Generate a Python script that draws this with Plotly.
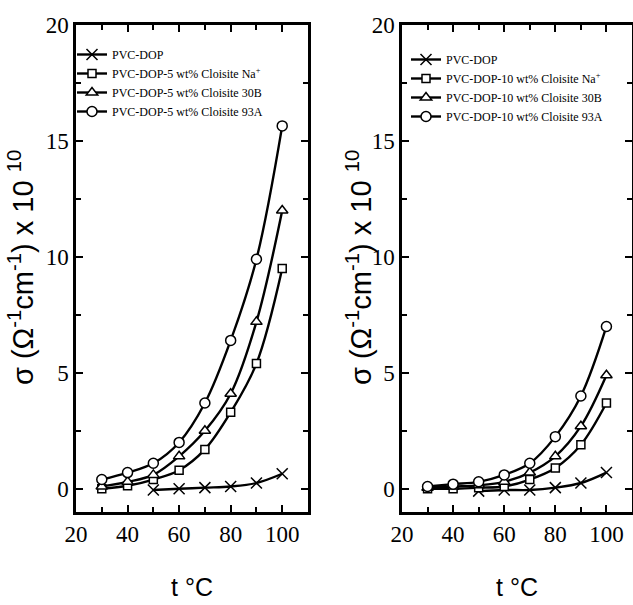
import plotly.graph_objects as go

# ---- data ----
temps = [30, 40, 50, 60, 70, 80, 90, 100]
temps_dop = [50, 60, 70, 80, 90, 100]

# left panel (5 wt%)
left_dop = [-0.05, 0.0, 0.05, 0.1, 0.25, 0.65]
left_na = [0.0, 0.13, 0.4, 0.8, 1.7, 3.3, 5.4, 9.5]
left_30b = [0.1, 0.3, 0.6, 1.4, 2.5, 4.1, 7.2, 12.0]
left_93a = [0.4, 0.7, 1.1, 2.0, 3.7, 6.4, 9.9, 15.65]

# right panel (10 wt%)
right_dop = [-0.1, -0.05, -0.05, 0.05, 0.25, 0.7]
right_na = [0.0, 0.0, 0.05, 0.1, 0.4, 0.9, 1.9, 3.7]
right_30b = [0.05, 0.1, 0.15, 0.3, 0.7, 1.4, 2.7, 4.9]
right_93a = [0.1, 0.2, 0.3, 0.6, 1.1, 2.25, 4.0, 7.0]

left_names = ["PVC-DOP",
              "PVC-DOP-5 wt% Cloisite Na<sup>+</sup>",
              "PVC-DOP-5 wt% Cloisite 30B",
              "PVC-DOP-5 wt% Cloisite 93A"]
right_names = ["PVC-DOP",
               "PVC-DOP-10 wt% Cloisite Na<sup>+</sup>",
               "PVC-DOP-10 wt% Cloisite 30B",
               "PVC-DOP-10 wt% Cloisite 93A"]

x_ticks = [20, 40, 60, 80, 100]
y_ticks = [0, 5, 10, 15, 20]
y_title = "σ (Ω<sup>-1</sup>cm<sup>-1</sup>) x 10 <sup>10</sup>"
x_title = "t °C"

symbols = ["x-thin", "square", "triangle-up", "circle"]
sizes = [11, 8, 10, 10]

fig = go.Figure()

def add_panel(xa, ya, legend, names, series):
    for i, (name, (xs, ys)) in enumerate(zip(names, series)):
        fig.add_trace(go.Scatter(
            x=xs, y=ys, name=name, mode="lines+markers",
            xaxis=xa, yaxis=ya, legend=legend,
            line=dict(color="black", width=2.4, shape="spline", smoothing=1.0),
            marker=dict(symbol=symbols[i], size=sizes[i], color="white",
                        line=dict(color="black", width=1.5)),
        ))

add_panel("x", "y", "legend", left_names,
          [(temps_dop, left_dop), (temps, left_na), (temps, left_30b), (temps, left_93a)])
add_panel("x2", "y2", "legend2", right_names,
          [(temps_dop, right_dop), (temps, right_na), (temps, right_30b), (temps, right_93a)])

tickfont = dict(family="Liberation Serif", size=23, color="black")
axis_common = dict(showgrid=False, zeroline=False, showline=True, linecolor="black",
                   linewidth=2.5, mirror="ticks", ticks="inside", ticklen=7,
                   tickwidth=2, tickcolor="black", tickfont=tickfont)

ydom = [1 - 512 / 605, 1 - 25 / 605]
xminor = dict(tickvals=[30, 50, 70, 90], ticks="inside", ticklen=5, tickwidth=2,
              tickcolor="black")
yminor = dict(tickvals=[2.5, 7.5, 12.5, 17.5], ticks="inside", ticklen=5,
              tickwidth=2, tickcolor="black")
legfont = dict(family="Liberation Serif", size=12, color="black")

fig.update_layout(
    width=633, height=605, margin=dict(l=0, r=0, t=0, b=0),
    paper_bgcolor="white", plot_bgcolor="white",
    xaxis=dict(domain=[76 / 633, 308 / 633], range=[20, 110], tickvals=x_ticks,
               minor=xminor, anchor="y", automargin=False, **axis_common),
    yaxis=dict(domain=ydom, range=[-1, 20], tickvals=y_ticks, ticksuffix="\u00a0",
               minor=yminor, anchor="x", automargin=False, **axis_common),
    xaxis2=dict(domain=[402 / 633, 632 / 633], range=[20, 110], tickvals=x_ticks,
                minor=xminor, anchor="y2", automargin=False, **axis_common),
    yaxis2=dict(domain=ydom, range=[-1, 20], tickvals=y_ticks, ticksuffix="\u2009",
                minor=yminor, anchor="x2", automargin=False, **axis_common),
    legend=dict(x=72 / 633, y=1 - 40 / 605, xanchor="left", yanchor="top",
                bgcolor="rgba(0,0,0,0)", font=legfont, itemwidth=30, tracegroupgap=0),
    legend2=dict(x=406 / 633, y=1 - 45 / 605, xanchor="left", yanchor="top",
                 bgcolor="rgba(0,0,0,0)", font=legfont, itemwidth=30, tracegroupgap=0),
    showlegend=True,
)

title_font = dict(family="Liberation Sans", size=29, color="black")
xt_font = dict(family="Liberation Sans", size=25, color="black")
for xc, xm in [(21, 192), (359, 517)]:
    fig.add_annotation(text=y_title, x=xc / 633, y=1 - 268 / 605, xref="paper", yref="paper",
                       showarrow=False, textangle=-90, font=title_font,
                       xanchor="center", yanchor="middle")
    fig.add_annotation(text=x_title, x=xm / 633, y=1 - 587 / 605, xref="paper", yref="paper",
                       showarrow=False, font=xt_font, xanchor="center", yanchor="middle")

fig.write_html("out.html")
